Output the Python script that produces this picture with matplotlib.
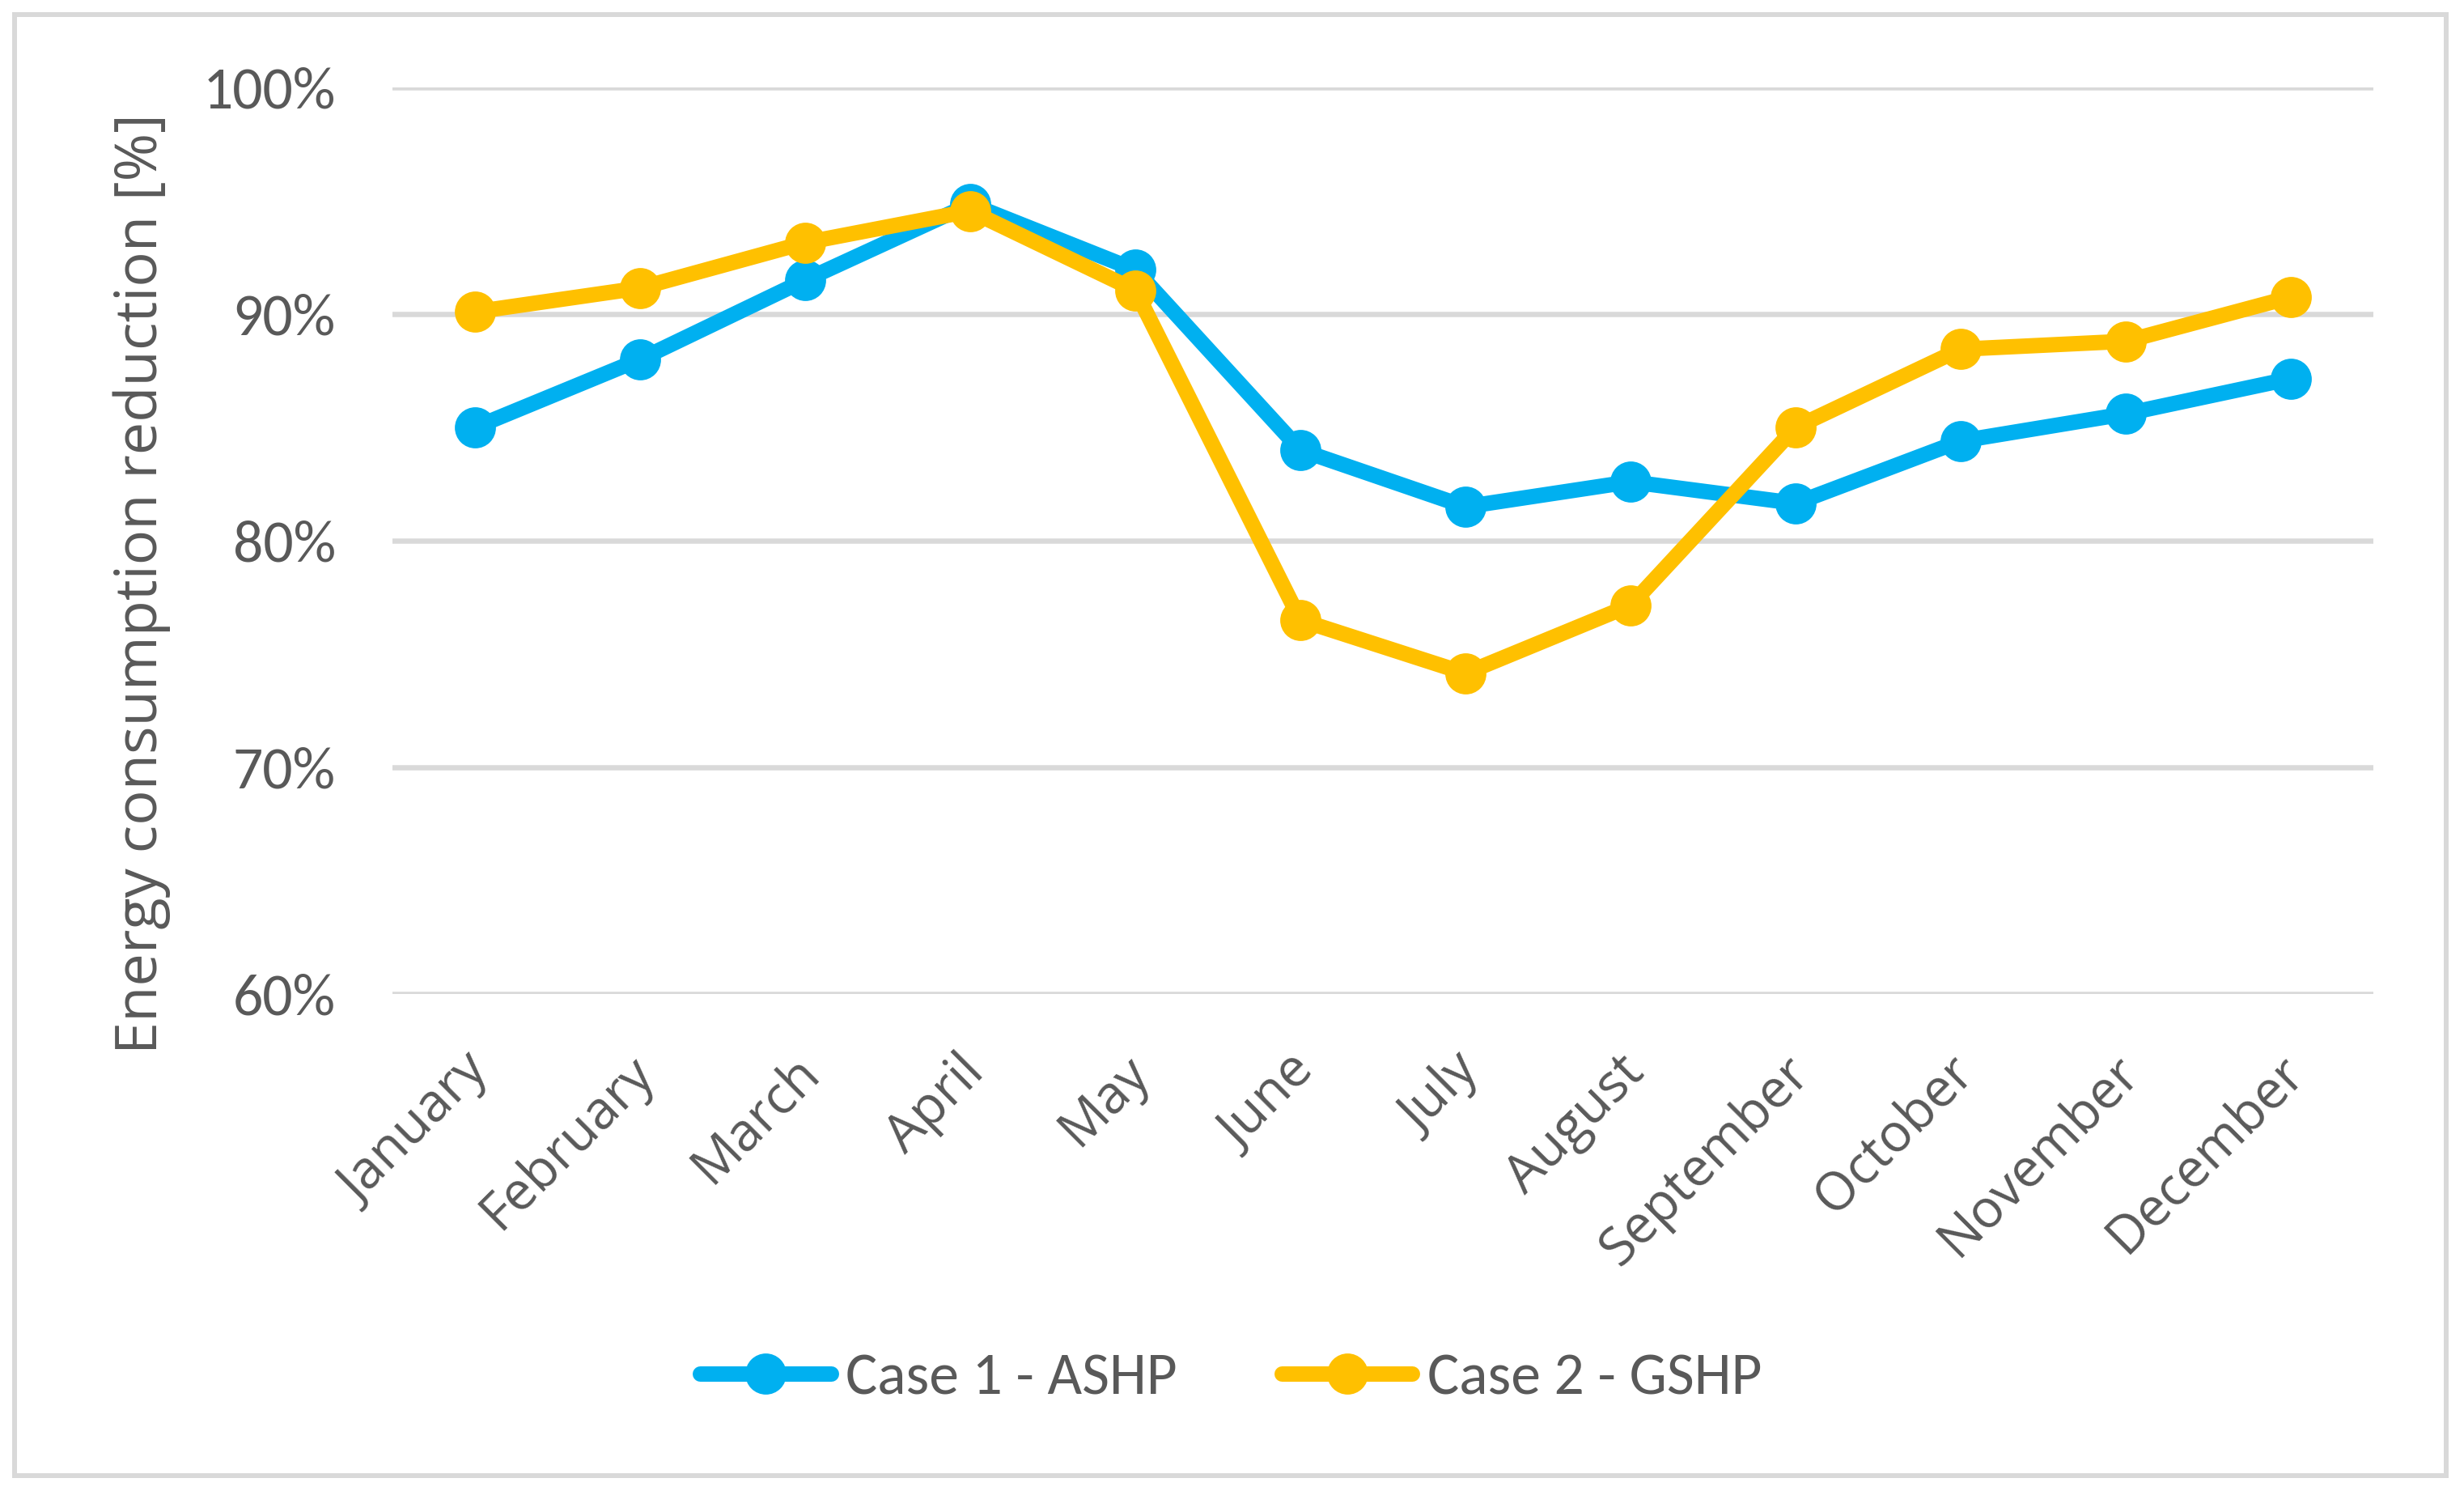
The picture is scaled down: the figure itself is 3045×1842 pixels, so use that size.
import matplotlib
matplotlib.use("Agg")
import matplotlib.pyplot as plt
from matplotlib.patches import Rectangle
from matplotlib.ticker import FuncFormatter, FixedLocator
from matplotlib.transforms import ScaledTranslation

months = ["January", "February", "March", "April", "May", "June", "July",
          "August", "September", "October", "November", "December"]
ashp = [85.0, 88.0, 91.5, 94.85, 91.95, 84.0, 81.5, 82.6, 81.65, 84.4, 85.6, 87.15]
gshp = [90.1, 91.15, 93.15, 94.55, 91.05, 76.5, 74.15, 77.15, 85.0, 88.45, 88.8, 90.75]
series_names = ["Case 1 - ASHP", "Case 2 - GSHP"]
yticks = [60, 70, 80, 90, 100]

BLUE = "#00B0F0"
YELLOW = "#FFC000"
GRID = "#D9D9D9"
TXT = "#595959"
NARROW = ["Carlito", "Roboto Condensed", "Open Sans", "DejaVu Sans"]
ROUND = ["Open Sans", "DejaVu Sans"]

W, H = 3045, 1842
DPI = 200
fig = plt.figure(figsize=(W / DPI, H / DPI), dpi=DPI)

left, right, top, bottom = 485, 2933, 108, 1228
ax = fig.add_axes([left / W, 1 - bottom / H, (right - left) / W, (bottom - top) / H])

x = list(range(len(months)))
lw = 19 / DPI * 72
ms = 48 / DPI * 72
ax.plot(x, ashp, color=BLUE, lw=lw, marker="o", ms=ms, mec=BLUE, mfc=BLUE,
        label=series_names[0], solid_joinstyle="round", solid_capstyle="round", zorder=3)
ax.plot(x, gshp, color=YELLOW, lw=lw, marker="o", ms=ms, mec=YELLOW, mfc=YELLOW,
        label=series_names[1], solid_joinstyle="round", solid_capstyle="round", zorder=4)

ax.set_xlim(-0.5, len(months) - 0.5)
ax.set_ylim(60, 100)
ax.yaxis.set_major_locator(FixedLocator(yticks))
ax.yaxis.set_major_formatter(FuncFormatter(lambda v, p: f"{v:.0f}%"))
ax.grid(axis="y", color=GRID, lw=6.5 / DPI * 72, zorder=0)
ax.set_axisbelow(True)
for s in ax.spines.values():
    s.set_visible(False)

ax.tick_params(axis="both", length=0)
ax.tick_params(axis="y", pad=70 / DPI * 72, labelcolor=TXT)
for lab in ax.get_yticklabels():
    lab.set_family(NARROW)
    lab.set_fontsize(26.5)

ax.set_xticks(x)
ax.set_xticklabels(months, rotation=45, ha="right", va="top", rotation_mode="anchor",
                   family=ROUND, fontsize=23.5, color=TXT)
ax.tick_params(axis="x", pad=62 / DPI * 72)
shift = ScaledTranslation(-16 / DPI, -2 / DPI, fig.dpi_scale_trans)
for lab in ax.get_xticklabels():
    lab.set_transform(lab.get_transform() + shift)

fig.text(175 / W, 1 - 721 / H, "Energy consumption reduction [%]", rotation=90,
         ha="center", va="center", family=ROUND, fontsize=26, color=TXT)

leg = fig.legend(loc="center", bbox_to_anchor=(1521 / W, 1 - 1703 / H), ncol=2,
                 frameon=False, prop={"family": NARROW, "size": 26.5},
                 handlelength=2.2, handletextpad=0.25, columnspacing=1.75,
                 labelcolor=TXT)

fig.patches.append(Rectangle((18 / W, 1 - 1823 / H), (3023 - 18) / W, (1823 - 18) / H,
                             transform=fig.transFigure, fill=False,
                             edgecolor=GRID, lw=6 / DPI * 72))

fig.savefig("out.png", dpi=DPI, facecolor="white")
